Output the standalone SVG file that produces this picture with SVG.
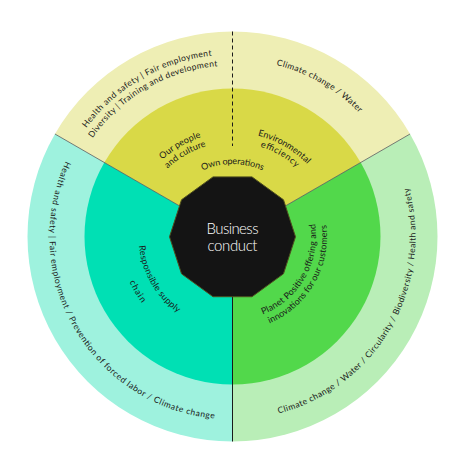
<svg xmlns="http://www.w3.org/2000/svg" width="459" height="451" viewBox="0 0 459 451">
<style>
text{font-family:Lato,"Open Sans","Liberation Sans",sans-serif;fill:#1a1a1a;font-weight:400}
.o{font-size:8.5px}
.i{font-size:9px}
.c{font-size:15px;fill:#ffffff;text-anchor:middle;font-weight:300}
.div{stroke:#5a5a5a;stroke-width:0.8;fill:none}
</style>
<defs>
<path id="pTL1" d="M67.55,313.41 A182,182 0 0 1 381.59,132.10"/>
<path id="pTL2" d="M77.52,308.76 A171,171 0 0 1 372.58,138.41"/>
<path id="pTR" d="M87.5,134.97 A177,177 0 0 1 392.92,311.30"/>
<path id="pLL" d="M127.53,86.59 A183,183 0 0 0 309.84,402.35"/>
<path id="pLR" d="M155.16,402.35 A183,183 0 0 0 337.47,86.59"/>
<path id="pOwn" d="M160.28,230.18 A72.5,72.5 0 0 1 304.72,230.18"/>
<path id="pOP1" d="M138.24,280.45 A104,104 0 0 1 317.70,176.85"/>
<path id="pOP2" d="M147.31,276.22 A94,94 0 0 1 309.50,182.58"/>
<path id="pEE1" d="M147.30,176.85 A104,104 0 0 1 326.76,280.45"/>
<path id="pEE2" d="M155.50,182.58 A94,94 0 0 1 317.69,276.22"/>
<path id="pRS1" d="M178.58,159.50 A94,94 0 0 0 272.22,321.69"/>
<path id="pRS2" d="M167.97,144.34 A112.5,112.5 0 0 0 280.04,338.46"/>
<path id="pPP1" d="M197.21,312.18 A83.5,83.5 0 0 0 280.40,168.10"/>
<path id="pPP2" d="M192.56,322.15 A94.5,94.5 0 0 0 286.71,159.09"/>
</defs>

<g id="own-operations">
<path d="M232.5,236.5 L54.96,134 A205,205 0 0 1 410.04,134 Z" fill="#eeeeb4"/>
<path d="M232.5,236.5 L104.33,162.5 A148,148 0 0 1 360.67,162.5 Z" fill="#d9d947"/>
<text class="o"><textPath href="#pTL1" startOffset="50%" text-anchor="middle" textLength="149" lengthAdjust="spacing">Health and safety | Fair employment</textPath></text>
<text class="o"><textPath href="#pTL2" startOffset="50%" text-anchor="middle" textLength="149" lengthAdjust="spacing">Diversity | Training and development</textPath></text>
<text class="o"><textPath href="#pTR" startOffset="50%" text-anchor="middle" textLength="97" lengthAdjust="spacing">Climate change / Water</textPath></text>
<text class="i"><textPath href="#pOwn" startOffset="50%" text-anchor="middle" textLength="62" lengthAdjust="spacing">Own operations</textPath></text>
<text class="i"><textPath href="#pOP1" startOffset="50%" text-anchor="middle" textLength="45" lengthAdjust="spacing">Our people</textPath></text>
<text class="i"><textPath href="#pOP2" startOffset="50%" text-anchor="middle" textLength="45" lengthAdjust="spacing">and culture</textPath></text>
<text class="i"><textPath href="#pEE1" startOffset="50%" text-anchor="middle" textLength="58" lengthAdjust="spacing">Environmental</textPath></text>
<text class="i"><textPath href="#pEE2" startOffset="50%" text-anchor="middle" textLength="42" lengthAdjust="spacing">efficiency</textPath></text>
</g>

<g id="responsible-supply-chain">
<path d="M232.5,236.5 L232.5,441.5 A205,205 0 0 1 54.96,134 Z" fill="#9ef2de"/>
<path d="M232.5,236.5 L232.5,384.5 A148,148 0 0 1 104.33,162.5 Z" fill="#00e0b4"/>
<text class="o"><textPath href="#pLL" startOffset="50%" text-anchor="middle" textLength="347" lengthAdjust="spacing">Health and safety | Fair employment / Prevention of forced labor / Climate change</textPath></text>
<text class="i"><textPath href="#pRS1" startOffset="50%" text-anchor="middle" textLength="80" lengthAdjust="spacing">Responsible supply</textPath></text>
<text class="i"><textPath href="#pRS2" startOffset="50%" text-anchor="middle" textLength="25" lengthAdjust="spacing">chain</textPath></text>
</g>

<g id="planet-positive">
<path d="M232.5,236.5 L410.04,134 A205,205 0 0 1 232.5,441.5 Z" fill="#b9eeb7"/>
<path d="M232.5,236.5 L360.67,162.5 A148,148 0 0 1 232.5,384.5 Z" fill="#52d84b"/>
<text class="o"><textPath href="#pLR" startOffset="50%" text-anchor="middle" textLength="290" lengthAdjust="spacing">Climate change / Water / Circularity / Biodiversity / Health and safety</textPath></text>
<text class="i"><textPath href="#pPP1" startOffset="50%" text-anchor="middle" textLength="113" lengthAdjust="spacing">Planet Positive offering and</textPath></text>
<text class="i"><textPath href="#pPP2" startOffset="50%" text-anchor="middle" textLength="122" lengthAdjust="spacing">innovations for our customers</textPath></text>
</g>

<g id="connectors">
<line class="div" x1="232.5" y1="236.5" x2="54.96" y2="134"/>
<line class="div" x1="232.5" y1="236.5" x2="410.04" y2="134"/>
<line x1="232.5" y1="236.5" x2="232.5" y2="441.5" stroke="#1a1a1a" stroke-width="1"/>
<line x1="232.5" y1="31.5" x2="232.5" y2="146" stroke="#1a1a1a" stroke-width="1" stroke-dasharray="4 3"/>
</g>

<g id="business-conduct">
<polygon points="295.5,236.8 283.47,273.83 251.97,296.72 213.03,296.72 181.53,273.83 169.5,236.8 181.53,199.77 213.03,176.88 251.97,176.88 283.47,199.77" fill="#141414" stroke="#4e4e1e" stroke-width="1"/>
<text class="c" x="232.5" y="234" textLength="52" lengthAdjust="spacing">Business</text>
<text class="c" x="232.5" y="250.5" textLength="50" lengthAdjust="spacing">conduct</text>
</g>
</svg>
